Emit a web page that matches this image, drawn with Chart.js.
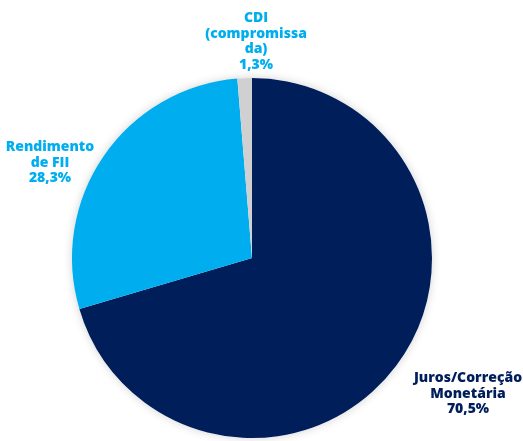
<!DOCTYPE html>
<html>
<head>
<meta charset="utf-8">
<script src="https://cdn.jsdelivr.net/npm/chart.js@4"></script>
<style>
  html, body { margin: 0; padding: 0; background: #fff; }
  #wrap { width: 523px; height: 441px; }
</style>
</head>
<body>
<div id="wrap"><canvas id="c"></canvas></div>
<script>
const categories = ["Juros/Correção Monetária", "Rendimento de FII", "CDI (compromissada)"];
const shares = [70.5, 28.3, 1.3];
const labelLines = [
  ["Juros/Correção", "Monetária", "70,5%"],
  ["Rendimento", "de FII", "28,3%"],
  ["CDI", "(compromissa", "da)", "1,3%"],
];
const sliceColors = ["#001e5a", "#00aeef", "#d0d0d0"];
const labelColors = ["#001e5a", "#00aeef", "#00aeef"];

// where each label block sits (center x, first baseline y)
const labelPos = [
  { x: 468, y: 382 },
  { x: 50, y: 151 },
  { x: 256, y: 22 },
];

const shadowPlugin = {
  id: "shadow",
  beforeDatasetsDraw(chart) {
    const arc = chart.getDatasetMeta(0).data[0];
    if (!arc) return;
    const ctx = chart.ctx;
    ctx.save();
    ctx.shadowColor = "rgba(0,0,0,0.18)";
    ctx.shadowBlur = 10;
    ctx.fillStyle = "#fff";
    ctx.beginPath();
    ctx.arc(arc.x, arc.y, arc.outerRadius, 0, Math.PI * 2);
    ctx.fill();
    ctx.restore();
  },
};

const labelPlugin = {
  id: "labels",
  afterDraw(chart) {
    const ctx = chart.ctx;
    ctx.save();
    ctx.font = "800 14px 'Open Sans'";
    ctx.textAlign = "center";
    ctx.textBaseline = "alphabetic";
    labelLines.forEach((lines, i) => {
      ctx.fillStyle = labelColors[i];
      lines.forEach((t, j) => {
        ctx.fillText(t, labelPos[i].x, labelPos[i].y + j * 15.5);
      });
    });
    ctx.restore();
  },
};

new Chart(document.getElementById("c"), {
  type: "pie",
  data: {
    labels: categories,
    datasets: [{
      data: shares,
      backgroundColor: sliceColors,
      borderWidth: 0,
    }],
  },
  options: {
    responsive: true,
    maintainAspectRatio: false,
    animation: false,
    layout: { padding: { top: 78, bottom: 3, left: 72, right: 91 } },
    plugins: {
      legend: { display: false },
      tooltip: { enabled: false },
    },
  },
  plugins: [shadowPlugin, labelPlugin],
});
</script>
</body>
</html>
